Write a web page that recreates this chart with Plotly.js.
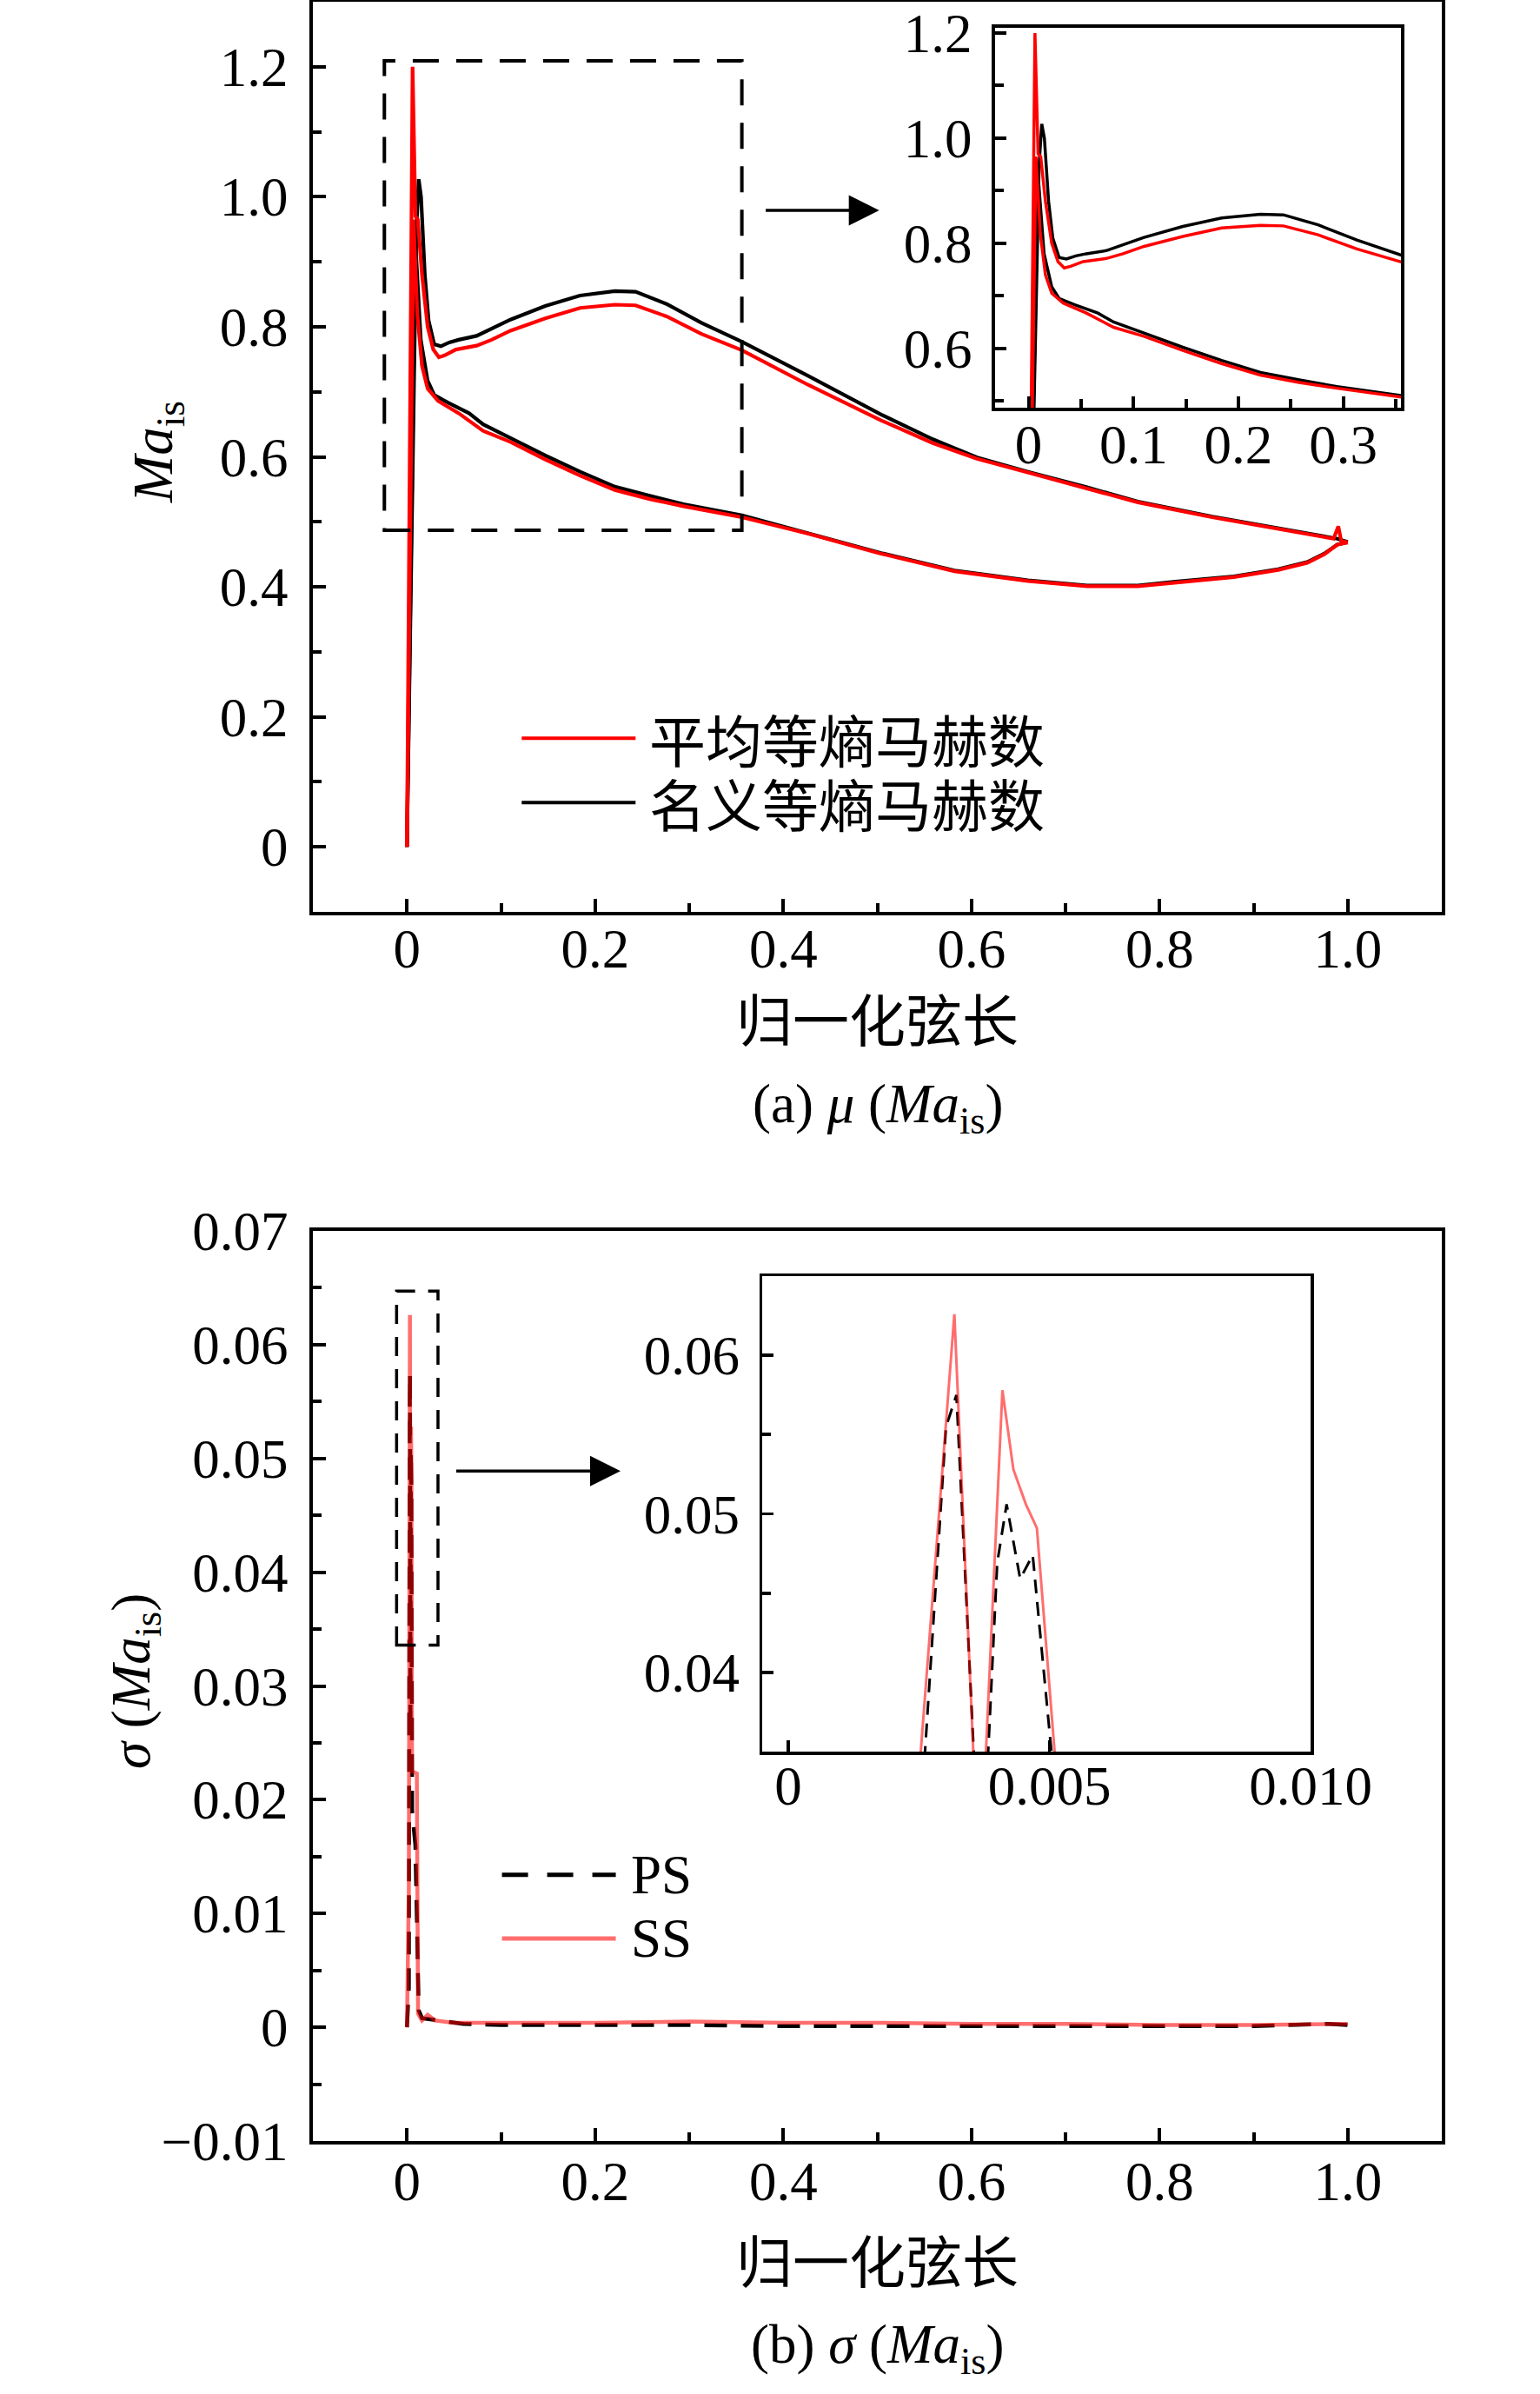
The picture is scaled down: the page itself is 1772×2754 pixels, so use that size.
<!DOCTYPE html>
<html>
<head>
<meta charset="utf-8">
<script src="https://cdn.plot.ly/plotly-3.0.1.min.js"></script>
<style>html,body{margin:0;padding:0;background:#fff;}</style>
</head>
<body>
<div id="chart" style="width:1772px;height:2754px;"></div>
<script>
// ---------- (a) mean / nominal isentropic Mach number ----------
const meanSS_x = [0, 0.006, 0.009, 0.0115, 0.016, 0.022, 0.028, 0.034, 0.040, 0.052, 0.074, 0.090, 0.110, 0.147, 0.184, 0.221, 0.243, 0.276, 0.313, 0.356, 0.426, 0.504, 0.559, 0.606, 0.660, 0.723, 0.777, 0.856, 0.934, 0.985, 0.990, 0.993, 1.000];
const meanSS   = [0, 1.200, 0.970, 0.965, 0.880, 0.800, 0.765, 0.753, 0.756, 0.765, 0.771, 0.780, 0.794, 0.813, 0.829, 0.834, 0.833, 0.816, 0.789, 0.764, 0.711, 0.656, 0.621, 0.597, 0.576, 0.552, 0.530, 0.507, 0.487, 0.474, 0.493, 0.471, 0.468];
const meanPS_x = [0, 0.007, 0.011, 0.016, 0.022, 0.033, 0.055, 0.081, 0.110, 0.147, 0.184, 0.221, 0.258, 0.294, 0.356, 0.426, 0.504, 0.582, 0.660, 0.723, 0.777, 0.817, 0.879, 0.926, 0.957, 0.975, 0.989, 1.000];
const meanPS   = [0, 0.965, 0.820, 0.740, 0.705, 0.686, 0.667, 0.640, 0.623, 0.596, 0.571, 0.549, 0.535, 0.524, 0.507, 0.482, 0.451, 0.424, 0.409, 0.401, 0.401, 0.407, 0.415, 0.426, 0.437, 0.450, 0.465, 0.468];
const nomSS_x  = [0, 0.010, 0.0125, 0.015, 0.019, 0.023, 0.029, 0.036, 0.045, 0.055, 0.074, 0.090, 0.110, 0.147, 0.184, 0.221, 0.243, 0.276, 0.313, 0.356, 0.426, 0.504, 0.559, 0.606, 0.660, 0.723, 0.777, 0.856, 0.934, 0.989, 1.000];
const nomSS    = [0, 0.950, 1.027, 1.000, 0.880, 0.810, 0.773, 0.770, 0.776, 0.780, 0.786, 0.797, 0.811, 0.832, 0.848, 0.855, 0.854, 0.835, 0.806, 0.777, 0.725, 0.665, 0.627, 0.599, 0.577, 0.553, 0.531, 0.508, 0.488, 0.474, 0.469];
const nomPS_x  = [0, 0.009, 0.0147, 0.022, 0.029, 0.044, 0.066, 0.081, 0.110, 0.147, 0.184, 0.221, 0.258, 0.294, 0.356, 0.426, 0.504, 0.582, 0.660, 0.723, 0.777, 0.817, 0.879, 0.926, 0.957, 0.975, 0.989, 1.000];
const nomPS    = [0, 0.930, 0.780, 0.717, 0.695, 0.683, 0.667, 0.650, 0.629, 0.602, 0.577, 0.554, 0.540, 0.527, 0.510, 0.483, 0.452, 0.425, 0.410, 0.402, 0.402, 0.408, 0.416, 0.427, 0.438, 0.451, 0.465, 0.469];

// ---------- (b) standard deviation of isentropic Mach number ----------
const sigmaPS_x = [0, 0.0020, 0.00302, 0.00322, 0.00369, 0.0040, 0.00418, 0.00444, 0.00468, 0.0055, 0.009, 0.0125, 0.016, 0.025, 0.040, 0.060, 0.10, 0.20, 0.30, 0.40, 0.50, 0.60, 0.70, 0.80, 0.90, 0.98, 1.00];
const sigmaPS   = [0, 0.0035, 0.0555, 0.0575, 0.0255, 0.0469, 0.0506, 0.0459, 0.0474, 0.0190, 0.0160, 0.0015, 0.0008, 0.0007, 0.0005, 0.0003, 0.0002, 0.0002, 0.0002, 0.0001, 0.0001, 0.0001, 0.0001, 0.0001, 0.0001, 0.0003, 0.0002];
const sigmaSS_x = [0, 0.0020, 0.00318, 0.00366, 0.0041, 0.00431, 0.00455, 0.00476, 0.0054, 0.0105, 0.0118, 0.016, 0.022, 0.030, 0.050, 0.10, 0.20, 0.30, 0.40, 0.50, 0.60, 0.70, 0.80, 0.90, 0.98, 1.00];
const sigmaSS   = [0, 0.0120, 0.0626, 0.0260, 0.0578, 0.0528, 0.0506, 0.0491, 0.0225, 0.0223, 0.0012, 0.0006, 0.0011, 0.0006, 0.0004, 0.0004, 0.0004, 0.0005, 0.0004, 0.0004, 0.0003, 0.0003, 0.0002, 0.0002, 0.0003, 0.0003];

// ---------- tick labels ----------
const chordTicks = [0, 0.2, 0.4, 0.6, 0.8, 1.0];
const chordLabels = ['0', '0.2', '0.4', '0.6', '0.8', '1.0'];
const chordMinor = [0.1, 0.3, 0.5, 0.7, 0.9];
const maTicks = [0, 0.2, 0.4, 0.6, 0.8, 1.0, 1.2];
const maLabels = ['0', '0.2', '0.4', '0.6', '0.8', '1.0', '1.2'];
const maMinor = [0.1, 0.3, 0.5, 0.7, 0.9, 1.1];
const insetATicksX = [0, 0.1, 0.2, 0.3];
const insetALabelsX = ['0', '0.1', '0.2', '0.3'];
const insetAMinorX = [0.05, 0.15, 0.25, 0.35];
const insetATicksY = [0.6, 0.8, 1.0, 1.2];
const insetALabelsY = ['0.6', '0.8', '1.0', '1.2'];
const insetAMinorY = [0.5, 0.7, 0.9, 1.1];
const sigTicks = [-0.01, 0, 0.01, 0.02, 0.03, 0.04, 0.05, 0.06, 0.07];
const sigLabels = ['\u22120.01', '0', '0.01', '0.02', '0.03', '0.04', '0.05', '0.06', '0.07'];
const sigMinor = [-0.005, 0.005, 0.015, 0.025, 0.035, 0.045, 0.055, 0.065];
const insetBTicksX = [0, 0.005, 0.010];
const insetBLabelsX = ['0', '0.005', '0.010'];
const insetBTicksY = [0.04, 0.05, 0.06];
const insetBLabelsY = ['0.04', '0.05', '0.06'];
const insetBMinorY = [0.045, 0.055];

const legendA = ['平均等熵马赫数', '名义等熵马赫数'];
const legendB = ['PS', 'SS'];

const FONT = 'Liberation Serif, Times New Roman, Noto Sans CJK SC, serif';
const CJK = 'Noto Sans CJK SC, Liberation Serif, sans-serif';
const RED = '#ff0000';
const SALMON = 'rgba(255,0,0,0.57)';
const H = 2754, W = 1772;

function axis(domain, range, anchor, tv, tt, minorVals, opts) {
  const o = Object.assign({
    domain: domain, range: range, anchor: anchor,
    tickmode: 'array', tickvals: tv, ticktext: tt,
    ticks: 'inside', ticklen: 15, tickwidth: 4, tickcolor: '#000',
    showline: true, mirror: true, linewidth: 4, linecolor: '#000',
    showgrid: false, zeroline: false,
    tickfont: {family: FONT, size: 63, color: '#000'},
    ticklabelstandoff: 12,
    fixedrange: true
  }, opts || {});
  if (minorVals) {
    o.minor = {tickmode: 'array', tickvals: minorVals, ticks: 'inside', ticklen: 10, tickwidth: 4, tickcolor: '#000', showgrid: false};
  }
  return o;
}

function line(x, y, xa, ya, color, width, dash) {
  return {x: x, y: y, xaxis: xa, yaxis: ya, type: 'scatter', mode: 'lines',
          line: {color: color, width: width, dash: dash || 'solid'}, hoverinfo: 'skip', showlegend: false};
}

const traces = [
  // (a) main
  line(nomSS_x, nomSS, 'x', 'y', '#000', 4.2),
  line(nomPS_x, nomPS, 'x', 'y', '#000', 4.2),
  line(meanSS_x, meanSS, 'x', 'y', RED, 4.2),
  line(meanPS_x, meanPS, 'x', 'y', RED, 4.2),
  // (a) inset
  line(nomSS_x, nomSS, 'x2', 'y2', '#000', 3.5),
  line(nomPS_x, nomPS, 'x2', 'y2', '#000', 3.5),
  line(meanSS_x, meanSS, 'x2', 'y2', RED, 3.5),
  line(meanPS_x, meanPS, 'x2', 'y2', RED, 3.5),
  // (b) main
  line(sigmaPS_x, sigmaPS, 'x3', 'y3', '#000', 4.5, '26px,16px'),
  line(sigmaSS_x, sigmaSS, 'x3', 'y3', SALMON, 4.5),
  // (b) inset
  line(sigmaPS_x, sigmaPS, 'x4', 'y4', '#000', 3, '16px,10px'),
  line(sigmaSS_x, sigmaSS, 'x4', 'y4', SALMON, 3)
];

const layout = {
  width: W, height: H,
  margin: {l: 0, r: 0, t: 0, b: 0},
  paper_bgcolor: '#fff', plot_bgcolor: '#fff',
  showlegend: false,
  font: {family: FONT, color: '#000'},
  xaxis: axis([360 / W, 1659 / W], [-0.1, 1.1], 'y', chordTicks, chordLabels, chordMinor, {ticklabelstandoff: -16}),
  yaxis: axis([1 - 1049 / H, 1 - 2 / H], [-0.1, 1.3], 'x', maTicks, maLabels, maMinor),
  xaxis2: axis([1145 / W, 1612 / W], [-0.032, 0.355], 'y2', insetATicksX, insetALabelsX, insetAMinorX, {ticklen: 13, ticklabelstandoff: -16}),
  yaxis2: axis([1 - 469 / H, 1 - 32 / H], [0.487, 1.21], 'x2', insetATicksY, insetALabelsY, insetAMinorY, {ticklen: 13, ticklabelstandoff: 10}),
  xaxis3: axis([360 / W, 1659 / W], [-0.1, 1.1], 'y3', chordTicks, chordLabels, chordMinor, {ticklabelstandoff: -12}),
  yaxis3: axis([1 - 2463 / H, 1 - 1416 / H], [-0.01, 0.07], 'x3', sigTicks, sigLabels, sigMinor),
  xaxis4: axis([877 / W, 1508 / W], [-0.0005, 0.0100], 'y4', insetBTicksX, insetBLabelsX, null, {ticklen: 13, linewidth: 3.5, tickwidth: 3.5, ticklabelstandoff: -18}),
  yaxis4: axis([1 - 2015 / H, 1 - 1468 / H], [0.035, 0.065], 'x4', insetBTicksY, insetBLabelsY, insetBMinorY, {ticklen: 13, linewidth: 3.5, tickwidth: 3.5, ticklabelstandoff: 10}),
  shapes: [
    // zoom boxes
    {type: 'rect', xref: 'x', yref: 'y', x0: -0.024, x1: 0.356, y0: 0.487, y1: 1.209,
     line: {color: '#000', width: 4, dash: '30px,20px'}, fillcolor: 'rgba(0,0,0,0)'},
    {type: 'rect', xref: 'x3', yref: 'y3', x0: -0.011, x1: 0.033, y0: 0.0336, y1: 0.0647,
     line: {color: '#000', width: 3.5, dash: '22px,15px'}, fillcolor: 'rgba(0,0,0,0)'},
    // legend samples (a)
    {type: 'line', xref: 'x', yref: 'y', x0: 0.122, x1: 0.243, y0: 0.167, y1: 0.167, line: {color: RED, width: 4}},
    {type: 'line', xref: 'x', yref: 'y', x0: 0.122, x1: 0.243, y0: 0.068, y1: 0.068, line: {color: '#000', width: 4}},
    // legend samples (b)
    {type: 'line', xref: 'x3', yref: 'y3', x0: 0.101, x1: 0.222, y0: 0.0134, y1: 0.0134, line: {color: '#000', width: 5, dash: '30px,22px'}},
    {type: 'line', xref: 'x3', yref: 'y3', x0: 0.101, x1: 0.222, y0: 0.0078, y1: 0.0078, line: {color: SALMON, width: 5}}
  ],
  annotations: [
    // legend text (a)
    {xref: 'x', yref: 'y', x: 0.256, y: 0.167, text: legendA[0], showarrow: false, xanchor: 'left', yanchor: 'middle', font: {family: CJK, size: 65, color: '#000'}},
    {xref: 'x', yref: 'y', x: 0.256, y: 0.068, text: legendA[1], showarrow: false, xanchor: 'left', yanchor: 'middle', font: {family: CJK, size: 65, color: '#000'}},
    // legend text (b)
    {xref: 'x3', yref: 'y3', x: 0.236, y: 0.0134, text: legendB[0], showarrow: false, xanchor: 'left', yanchor: 'middle', font: {family: FONT, size: 63, color: '#000'}},
    {xref: 'x3', yref: 'y3', x: 0.236, y: 0.0078, text: legendB[1], showarrow: false, xanchor: 'left', yanchor: 'middle', font: {family: FONT, size: 63, color: '#000'}},
    // arrows
    {xref: 'x', yref: 'y', axref: 'x', ayref: 'y', x: 0.502, y: 0.979, ax: 0.380, ay: 0.979, text: '',
     showarrow: true, arrowhead: 2, arrowsize: 2, arrowwidth: 3.5, arrowcolor: '#000', standoff: 0, startstandoff: 0},
    {xref: 'x3', yref: 'y3', axref: 'x3', ayref: 'y3', x: 0.227, y: 0.0489, ax: 0.051, ay: 0.0489, text: '',
     showarrow: true, arrowhead: 2, arrowsize: 2, arrowwidth: 3.5, arrowcolor: '#000', standoff: 0, startstandoff: 0},
    // axis titles
    {xref: 'paper', yref: 'paper', x: 1010 / W, y: 1 - 1170 / H, text: '归一化弦长', showarrow: false, xanchor: 'center', yanchor: 'middle', font: {family: CJK, size: 65, color: '#000'}},
    {xref: 'paper', yref: 'paper', x: 1010 / W, y: 1 - 1274 / H, text: '(a) <i>μ</i> (<i>Ma</i><sub>is</sub>)', showarrow: false, xanchor: 'center', yanchor: 'middle', font: {family: FONT, size: 63, color: '#000'}},
    {xref: 'paper', yref: 'paper', x: 181 / W, y: 1 - 520 / H, text: '<i>Ma</i><sub>is</sub>', textangle: -90, showarrow: false, xanchor: 'center', yanchor: 'middle', font: {family: FONT, size: 65, color: '#000'}},
    {xref: 'paper', yref: 'paper', x: 1010 / W, y: 1 - 2598 / H, text: '归一化弦长', showarrow: false, xanchor: 'center', yanchor: 'middle', font: {family: CJK, size: 65, color: '#000'}},
    {xref: 'paper', yref: 'paper', x: 1010 / W, y: 1 - 2701 / H, text: '(b) <i>σ</i> (<i>Ma</i><sub>is</sub>)', showarrow: false, xanchor: 'center', yanchor: 'middle', font: {family: FONT, size: 63, color: '#000'}},
    {xref: 'paper', yref: 'paper', x: 155 / W, y: 1 - 1934 / H, text: '<i>σ</i> (<i>Ma</i><sub>is</sub>)', textangle: -90, showarrow: false, xanchor: 'center', yanchor: 'middle', font: {family: FONT, size: 63, color: '#000'}}
  ]
};

Plotly.newPlot('chart', traces, layout, {staticPlot: true, displayModeBar: false});
</script>
</body>
</html>
